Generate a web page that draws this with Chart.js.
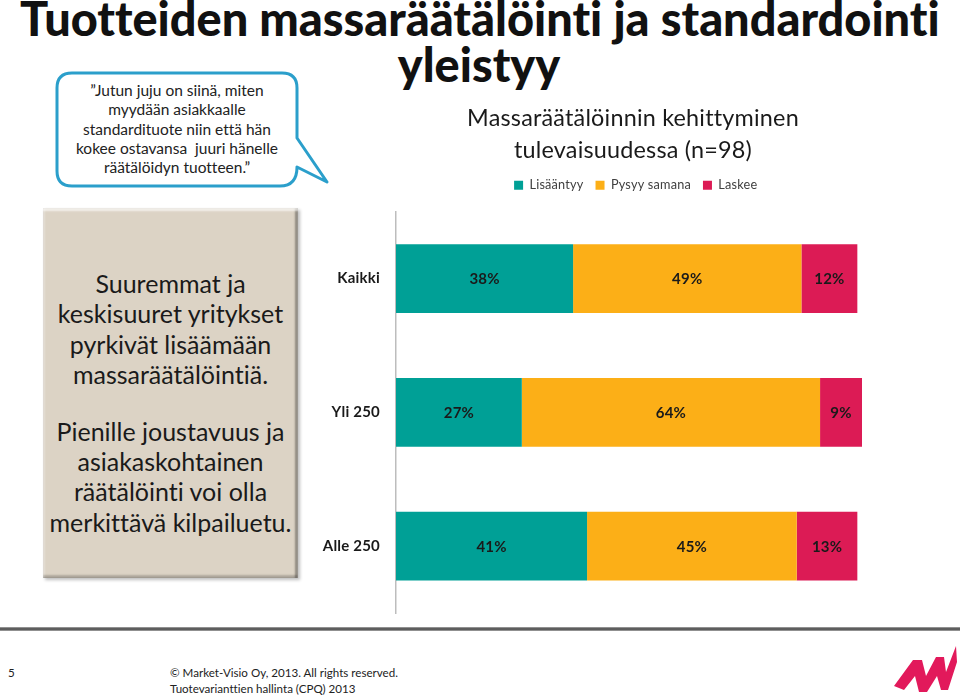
<!DOCTYPE html>
<html>
<head>
<meta charset="utf-8">
<script src="https://cdn.jsdelivr.net/npm/chart.js@4"></script>
<style>
  html, body { margin:0; padding:0; background:#fff; }
  body { width:960px; height:696px; overflow:hidden; position:relative; font-family: Lato, "Open Sans", sans-serif; color:#1a1a1a; font-variant-ligatures:none; }
  .abs { position:absolute; }
  #t1, #t2 { font-weight:900; line-height:1; white-space:nowrap; color:#111; }
  #bubbleText { left:52px; width:250px; top:81px; text-align:center; font-size:15.5px; line-height:19.3px; color:#222; }
  #box { left:43px; top:208px; width:255px; height:370px; background:#DCD3C5;
         box-shadow: inset 0 3px 2px rgba(255,255,255,.65), inset -3px 0 2px rgba(0,0,0,.35), inset 0 -3px 2px rgba(0,0,0,.2), inset 2px 0 2px rgba(255,255,255,.3), 2px 2px 3px rgba(0,0,0,.25); }
  #boxText { left:38px; width:265px; top:268px; text-align:center; font-size:25px; line-height:30.3px; color:#1a1a1a; }
  #boxText p { margin:0; }
  #boxText p + p { margin-top:26.7px; }
  #c { position:absolute; left:310px; top:90px; }
  #footLine { left:0; top:627px; width:960px; height:4px; background:linear-gradient(#aaa,#444,#aaa); }
  .foot { font-size:11.6px; line-height:16px; color:#222; white-space:nowrap; }
</style>
</head>
<body>
<svg class="abs" style="left:0;top:0" width="960" height="696">
  <path d="M 72 73 H 282 Q 297 73 297 88 V 138 L 327 182 L 297 167 Q 297 186 280 186 H 72 Q 57 186 57 171 V 88 Q 57 73 72 73 Z"
        fill="#fff" stroke="#2B9FCB" stroke-width="3" stroke-linejoin="round"/>
  <polygon fill="#E2195B" points="894,686 913,660 922,660 926,676 936,657 944,657 946,672 956,646 957,662 948,690 941,690 937,676 927,692 919,692 915,676 904,690"/>
</svg>

<div id="t1" class="abs">Tuotteiden massaräätälöinti ja standardointi</div>
<div id="t2" class="abs">yleistyy</div>

<div id="bubbleText" class="abs">”Jutun juju on siinä, miten<br>myydään asiakkaalle<br>standardituote niin että hän<br>kokee ostavansa&nbsp; juuri hänelle<br>räätälöidyn tuotteen.”</div>

<div id="box" class="abs"></div>
<div id="boxText" class="abs">
  <p>Suuremmat ja<br>keskisuuret yritykset<br>pyrkivät lisäämään<br>massaräätälöintiä.</p>
  <p>Pienille joustavuus ja<br>asiakaskohtainen<br>räätälöinti voi olla<br>merkittävä kilpailuetu.</p>
</div>

<canvas id="c" width="646" height="548"></canvas>

<div id="footLine" class="abs"></div>
<div class="abs foot" style="left:8px;top:665px;">5</div>
<div class="abs foot" style="left:170px;top:665px;">© Market-Visio Oy, 2013. All rights reserved.<br>Tuotevarianttien hallinta (CPQ) 2013</div>

<script>
// ---- data ----
const categories = ['Kaikki', 'Yli 250', 'Alle 250'];
const seriesNames = ['Lisääntyy', 'Pysyy samana', 'Laskee'];
const lisaantyy = [38, 27, 41];
const pysyySamana = [49, 64, 45];
const laskee = [12, 9, 13];
const chartTitle = ['Massaräätälöinnin kehittyminen', 'tulevaisuudessa (n=98)'];
const colors = ['#00A096', '#FCAF17', '#DC1B55'];

// ---- title fitting ----
(function () {
  const t1 = document.getElementById('t1');
  const t2 = document.getElementById('t2');
  let fs = 44;
  t1.style.fontSize = fs + 'px';
  const w = t1.getBoundingClientRect().width;
  fs = fs * 920 / w;
  t1.style.fontSize = fs + 'px';
  t2.style.fontSize = fs + 'px';
  const base1 = 37, base2 = 83;
  const off = 0.887 * fs;
  t1.style.left = '20px';
  t1.style.top = (base1 - off) + 'px';
  const w2 = t2.getBoundingClientRect().width;
  t2.style.left = (479 - w2 / 2) + 'px';
  t2.style.top = (base2 - off) + 'px';
})();

const noLigatures = {
  id: 'noLigatures',
  beforeDraw(chart) { try { chart.ctx.letterSpacing = '0.2px'; } catch (e) {} }
};

const barLabels = {
  id: 'barLabels',
  afterDatasetsDraw(chart) {
    const ctx = chart.ctx;
    ctx.save();
    ctx.font = 'bold 15px Lato';
    ctx.fillStyle = '#1a1a1a';
    ctx.textAlign = 'center';
    ctx.textBaseline = 'middle';
    chart.data.datasets.forEach((ds, di) => {
      const meta = chart.getDatasetMeta(di);
      meta.data.forEach((bar, i) => {
        const p = bar.getProps(['x', 'y', 'base'], true);
        ctx.fillText(ds.data[i] + '%', (p.x + p.base) / 2, p.y + 1);
      });
    });
    ctx.restore();
  }
};

new Chart(document.getElementById('c'), {
  type: 'bar',
  data: {
    labels: categories,
    datasets: [
      { label: seriesNames[0], data: lisaantyy, backgroundColor: colors[0] },
      { label: seriesNames[1], data: pysyySamana, backgroundColor: colors[1] },
      { label: seriesNames[2], data: laskee, backgroundColor: colors[2] }
    ]
  },
  options: {
    indexAxis: 'y',
    responsive: false,
    maintainAspectRatio: false,
    animation: false,
    devicePixelRatio: 1,
    font: { family: 'Lato' },
    layout: { padding: 0 },
    datasets: { bar: { barPercentage: 0.515, categoryPercentage: 1, borderWidth: 0 } },
    plugins: {
      tooltip: { enabled: false },
      title: {
        display: true,
        text: chartTitle,
        color: '#1a1a1a',
        font: { family: 'Lato', size: 23.4, weight: 'normal', lineHeight: '32px' },
        padding: { top: 12, bottom: 1 }
      },
      legend: {
        display: true,
        position: 'top',
        labels: {
          boxWidth: 9, boxHeight: 9, padding: 12,
          color: '#404040',
          font: { family: 'Lato', size: 12.7 }
        }
      }
    },
    scales: {
      x: {
        type: 'linear', stacked: true, min: 0, max: 100, position: 'top',
        display: true,
        grid: { display: false, drawTicks: false },
        border: { display: false },
        ticks: { display: false },
        afterFit(s) { s.height = 10; }
      },
      y: {
        type: 'category', stacked: true, position: 'left',
        grid: { display: false, drawTicks: false },
        border: { display: true, color: '#BDBDBD', width: 1.5 },
        ticks: { color: '#1a1a1a', font: { family: 'Lato', size: 15, weight: 'bold' }, padding: 16 },
        afterFit(s) { s.width = 86; }
      },
      yRight: {
        type: 'category', position: 'right', display: true,
        grid: { display: false, drawTicks: false },
        border: { display: false },
        ticks: { display: false },
        afterFit(s) { s.width = 94; }
      }
    }
  },
  plugins: [noLigatures, barLabels]
});
</script>
</body>
</html>
